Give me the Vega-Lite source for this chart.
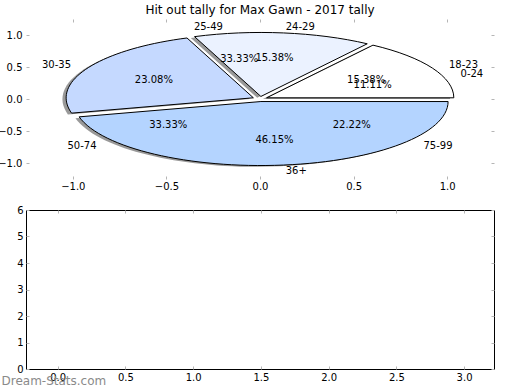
{
  "$schema": "https://vega.github.io/schema/vega-lite/v6.json",
  "title": {"text": "Hit out tally for Max Gawn - 2017 tally", "font": "DejaVu Sans", "fontSize": 12, "fontWeight": "normal", "color": "black", "anchor": "middle", "frame": "group", "baseline": "alphabetic", "offset": -7},
  "padding": {"left": -3, "top": 3, "right": 0, "bottom": 0},
  "spacing": 31,
  "bounds": "flush",
  "vconcat": [
    {
      "width": 468,
      "height": 160,
      "view": {"stroke": null},
      "data": {"values": [
        {"pie": "A", "group": "18-23", "count": 2, "order": 1},
        {"pie": "A", "group": "24-29", "count": 2, "order": 2},
        {"pie": "A", "group": "30-35", "count": 3, "order": 3},
        {"pie": "A", "group": "36+", "count": 6, "order": 4},
        {"pie": "B", "group": "0-24", "count": 1, "order": 1},
        {"pie": "B", "group": "25-49", "count": 3, "order": 2},
        {"pie": "B", "group": "50-74", "count": 3, "order": 3},
        {"pie": "B", "group": "75-99", "count": 2, "order": 4}
      ]},
      "transform": [
        {"window": [{"op": "sum", "field": "count", "as": "cum"}], "groupby": ["pie"], "sort": [{"field": "order"}], "frame": [null, 0]},
        {"joinaggregate": [{"op": "sum", "field": "count", "as": "total"}], "groupby": ["pie"]},
        {"calculate": "2*PI*(datum.cum-datum.count)/datum.total", "as": "a0"},
        {"calculate": "2*PI*datum.cum/datum.total", "as": "a1"},
        {"calculate": "(datum.a0+datum.a1)/2", "as": "am"},
        {"calculate": "0.04*cos(datum.am)", "as": "ex"},
        {"calculate": "0.04*sin(datum.am)", "as": "ey"},
        {"calculate": "'M'+round(10000*datum.ex)/10000+','+round(-3418.8*datum.ey)/10000+'L'+round(10000*(datum.ex+cos(datum.a0)))/10000+','+round(-3418.8*(datum.ey+sin(datum.a0)))/10000+'A1,0.34188,0,'+(datum.a1-datum.a0>PI?1:0)+',0,'+round(10000*(datum.ex+cos(datum.a1)))/10000+','+round(-3418.8*(datum.ey+sin(datum.a1)))/10000+'Z'", "as": "wedge"},
        {"calculate": "datum.ex+0.6*cos(datum.am)", "as": "px"},
        {"calculate": "datum.ey+0.6*sin(datum.am)", "as": "py"},
        {"calculate": "datum.ex+1.1*cos(datum.am)", "as": "lx"},
        {"calculate": "datum.ey+1.1*sin(datum.am)", "as": "ly"},
        {"calculate": "format(100*datum.count/datum.total,'.2f')+'%'", "as": "pct"}
      ],
      "layer": [
        {
          "transform": [{"filter": "datum.pie === 'A'"}],
          "mark": {"type": "point", "filled": true, "fill": "#333333", "opacity": 0.5, "strokeWidth": 0, "size": 140175, "xOffset": -3.7, "yOffset": 1.3},
          "encoding": {
            "x": {"datum": 0, "type": "quantitative", "scale": {"domain": [-1.25, 1.25], "nice": false, "zero": false}, "axis": {"orient": "top", "labels": false, "values": [-1, -0.5, 0, 0.5, 1], "title": null}},
            "y": {"datum": 0, "type": "quantitative", "scale": {"domain": [-1.25, 1.25], "nice": false, "zero": false}, "axis": {"orient": "right", "labels": false, "values": [-1, -0.5, 0, 0.5, 1], "title": null}},
            "shape": {"field": "wedge", "type": "nominal", "scale": null}
          }
        },
        {
          "transform": [{"filter": "datum.pie === 'A'"}],
          "mark": {"type": "point", "filled": true, "opacity": 1, "stroke": "black", "strokeWidth": 1, "size": 140175},
          "encoding": {
            "x": {"datum": 0, "type": "quantitative", "axis": {"orient": "bottom", "values": [-1, -0.5, 0, 0.5, 1], "format": ".1f", "title": null, "labelPadding": 5}},
            "y": {"datum": 0, "type": "quantitative", "axis": {"orient": "left", "values": [-1, -0.5, 0, 0.5, 1], "format": ".1f", "title": null, "labelPadding": 7}},
            "shape": {"field": "wedge", "type": "nominal", "scale": null},
            "color": {"field": "group", "type": "nominal", "scale": {"domain": ["18-23", "24-29", "30-35", "36+"], "range": ["#ffffff", "#ebf2ff", "#c5d9ff", "#b4d4ff"]}, "legend": null}
          }
        },
        {
          "mark": {"type": "text", "font": "DejaVu Sans", "fontSize": 10, "align": "center", "baseline": "middle", "color": "black"},
          "encoding": {
            "x": {"field": "px", "type": "quantitative", "axis": null},
            "y": {"field": "py", "type": "quantitative", "axis": null},
            "text": {"field": "pct"}
          }
        },
        {
          "transform": [{"filter": "datum.lx > 0"}],
          "mark": {"type": "text", "font": "DejaVu Sans", "fontSize": 10, "align": "left", "baseline": "middle", "color": "black"},
          "encoding": {
            "x": {"field": "lx", "type": "quantitative", "axis": null},
            "y": {"field": "ly", "type": "quantitative", "axis": null},
            "text": {"field": "group"}
          }
        },
        {
          "transform": [{"filter": "datum.lx <= 0"}],
          "mark": {"type": "text", "font": "DejaVu Sans", "fontSize": 10, "align": "right", "baseline": "middle", "color": "black"},
          "encoding": {
            "x": {"field": "lx", "type": "quantitative", "axis": null},
            "y": {"field": "ly", "type": "quantitative", "axis": null},
            "text": {"field": "group"}
          }
        }
      ],
      "resolve": {"axis": {"x": "independent", "y": "independent"}}
    },
    {
      "width": 468,
      "height": 159,
      "view": {"stroke": "black", "strokeWidth": 1},
      "data": {"values": [{"x": 0, "y": 0}]},
      "layer": [
        {
          "mark": {"type": "point", "opacity": 0},
          "encoding": {
            "x": {"field": "x", "type": "quantitative", "scale": {"domain": [-0.234, 3.221], "nice": false, "zero": false}, "axis": {"orient": "bottom", "values": [0, 0.5, 1, 1.5, 2, 2.5, 3], "format": ".1f", "labelPadding": 6, "title": "Dream-Stats.com", "titleX": -25, "titleY": 11, "titleAlign": "left", "titleBaseline": "middle", "titleAnchor": null, "titleFont": "DejaVu Sans", "titleFontSize": 12, "titleFontWeight": "normal", "titleColor": "#8a8a8a"}},
            "y": {"field": "y", "type": "quantitative", "scale": {"domain": [0, 6], "nice": false, "zero": false}, "axis": {"orient": "left", "values": [0, 1, 2, 3, 4, 5, 6], "format": "d", "title": null, "labelPadding": 6}}
          }
        },
        {
          "mark": {"type": "point", "opacity": 0},
          "encoding": {
            "x": {"field": "x", "type": "quantitative", "axis": {"orient": "top", "labels": false, "values": [0, 0.5, 1, 1.5, 2, 2.5, 3], "title": null}},
            "y": {"field": "y", "type": "quantitative", "axis": {"orient": "right", "labels": false, "values": [0, 1, 2, 3, 4, 5, 6], "title": null}}
          }
        }
      ],
      "resolve": {"axis": {"x": "independent", "y": "independent"}}
    }
  ],
  "config": {
    "font": "DejaVu Sans",
    "axis": {"labelFont": "DejaVu Sans", "labelFontSize": 10, "labelColor": "black", "tickColor": "#b5b5b5", "tickSize": -3, "tickWidth": 1, "domain": false, "grid": false, "labelFlush": false, "labelOverlap": false}
  }
}
